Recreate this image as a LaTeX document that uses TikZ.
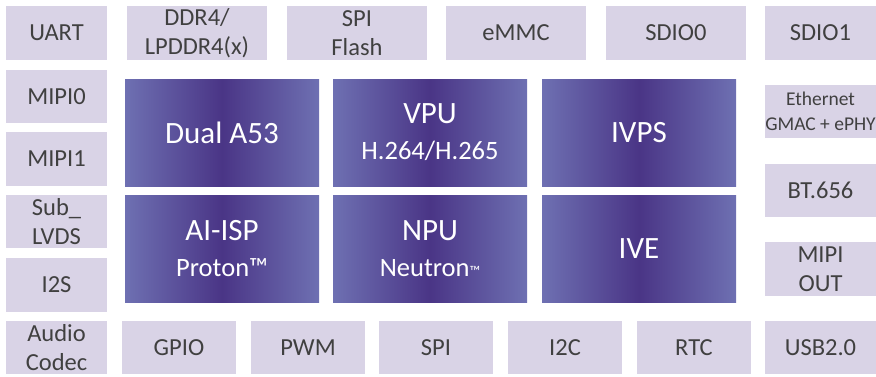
\documentclass[tikz,border=0pt]{standalone}
\usepackage{fontspec}
\setmainfont{Carlito}
\definecolor{ioFill}{HTML}{D9D3E6}
\definecolor{ioText}{HTML}{404040}
\definecolor{coreEdge}{HTML}{6E70B2}
\definecolor{coreMid}{HTML}{4A3586}

\begin{document}
\begin{tikzpicture}[x=1pt,y=-1pt,
    iobox/.style={fill=ioFill,text=ioText,inner sep=0pt,align=center,
        minimum height=53.5pt,font=\fontsize{24.5}{28.5}\selectfont},
    sidebox/.style={iobox,minimum width=101pt},
    rightbox/.style={iobox,minimum width=111pt},
    topbox/.style={iobox,minimum width=140pt},
    botbox/.style={iobox,minimum width=114pt},
    corebox/.style={left color=coreEdge,right color=coreEdge,middle color=coreMid,
        text=white,inner sep=0pt,align=center,minimum width=194pt,minimum height=107pt,
        font=\fontsize{31}{36}\selectfont}]
            \useasboundingbox (0,0) rectangle (876,376);
            % top row
            \node[sidebox] (uart) at (56.5,33) {UART};
            \node[topbox] (ddr) at (197,33) {DDR4/\\LPDDR4(x)};
            \node[topbox] (spiflash) at (357,33) {SPI\\Flash};
            \node[topbox] (emmc) at (516,33) {eMMC};
            \node[topbox] (sdio0) at (676,33) {SDIO0};
            \node[rightbox] (sdio1) at (820.5,33) {SDIO1};
            % left column
            \node[sidebox] (mipi0) at (56.5,96.5) {MIPI0};
            \node[sidebox] (mipi1) at (56.5,159) {MIPI1};
            \node[sidebox] (sublvds) at (56.5,221.5) {Sub\_\\LVDS};
            \node[sidebox] (i2s) at (56.5,285) {I2S};
            \node[sidebox] (audio) at (56.5,347.5) {Audio\\Codec};
            % right column
            \node[rightbox,font=\fontsize{19.5}{24.5}\selectfont] (eth) at (820.5,111.5) {Ethernet\\GMAC + ePHY};
            \node[rightbox] (bt656) at (820.5,190.5) {BT.656};
            \node[rightbox] (mipiout) at (820.5,269) {MIPI\\OUT};
            \node[rightbox] (usb) at (820.5,347.5) {USB2.0};
            % bottom row
            \node[botbox] (gpio) at (179,347.5) {GPIO};
            \node[botbox] (pwm) at (308,347.5) {PWM};
            \node[botbox] (spi) at (436,347.5) {SPI};
            \node[botbox] (i2c) at (565,347.5) {I2C};
            \node[botbox] (rtc) at (694,347.5) {RTC};
            % core blocks
            \node[corebox] (a53) at (222,132.5) {Dual A53};
            \node[corebox] (vpu) at (430,132.5) {VPU\\{\fontsize{26.5}{30}\selectfont H.264/H.265}};
            \node[corebox] (ivps) at (639,132.5) {IVPS};
            \node[corebox] (aiisp) at (222,248.5) {AI-ISP\\{\fontsize{26.5}{30}\selectfont Proton™}};
            \node[corebox] (npu) at (430,248.5) {NPU\\{\fontsize{26.5}{30}\selectfont Neutron{\fontsize{15}{15}\selectfont ™}}};
            \node[corebox] (ive) at (639,248.5) {IVE};
        \end{tikzpicture}
\end{document}
